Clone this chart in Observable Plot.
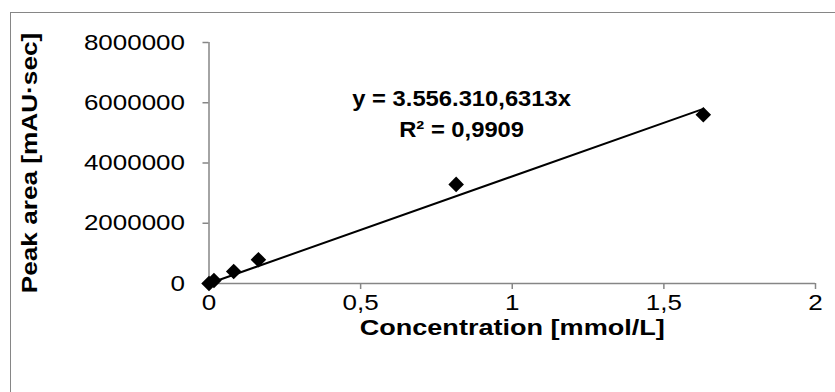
<!DOCTYPE html>
<html>
<head>
<meta charset="utf-8">
<script src="https://cdn.jsdelivr.net/npm/d3@7"></script>
<script src="https://cdn.jsdelivr.net/npm/@observablehq/plot@0.6"></script>
<style>
  html, body { margin: 0; padding: 0; background: #fff; overflow: hidden; }
  #wrap { position: relative; width: 835px; height: 392px; }
  #frame { position: absolute; left: 10px; top: 12px; width: 900px; height: 500px;
           border: 1.5px solid #868686; box-sizing: border-box; }
  #chart { position: absolute; left: 0; top: 0; }
  #chart svg { font-family: "Liberation Sans", Arial, sans-serif; }
</style>
</head>
<body>
<div id="wrap"><div id="frame"></div><div id="chart"></div></div>
<script>
// Data
const concentration = [0, 0.0163, 0.0815, 0.163, 0.815, 1.63];
const peakArea = [0, 100000, 400000, 790000, 3290000, 5600000];
const slope = 3556310.6313;
const equationLines = ["y = 3.556.310,6313x", "R² = 0,9909"];
const equationAt = {x: 0.833, y: 5600000};
const xTicks = [0, 0.5, 1, 1.5, 2];
const yTicks = [0, 2000000, 4000000, 6000000, 8000000];
const xLabel = "Concentration [mmol/L]";
const yLabel = "Peak area [mAU·sec]";

const points = concentration.map((c, i) => ({x: c, y: peakArea[i]}));
const xMax = d3.max(concentration);
const trend = [{x: 0, y: 0}, {x: xMax, y: slope * xMax}];

const axisGray = "#868686";
const fs = 22;
const lineGap = 31;
const chart = Plot.plot({
  width: 835,
  height: 392,
  marginLeft: 208.5,
  marginRight: 20,
  marginTop: 42,
  marginBottom: 109,
  style: {background: "transparent", color: "#000", fontSize: fs + "px", fontFamily: "Liberation Sans, Arial, sans-serif"},
  x: {domain: [0, 2]},
  y: {domain: [0, 8000000]},
  marks: [
    Plot.ruleX([0], {stroke: axisGray, strokeWidth: 1.5}),
    Plot.ruleY([0], {stroke: axisGray, strokeWidth: 1.5}),
    Plot.axisY({ticks: yTicks, tickSize: 6, tickPadding: 18, stroke: axisGray, strokeWidth: 1.5,
      tickFormat: d3.format("d"), fill: "#000", fontSize: fs, label: null}),
    Plot.axisX({ticks: xTicks, tickSize: 6, tickPadding: 5, stroke: axisGray, strokeWidth: 1.5,
      tickFormat: d => String(d).replace(".", ","), fill: "#000", fontSize: fs, label: null}),
    Plot.text([xLabel], {frameAnchor: "bottom", dy: 44, lineAnchor: "middle", textAnchor: "middle",
      fontWeight: "bold", fontSize: fs, fill: "#000"}),
    Plot.text([yLabel], {frameAnchor: "left", dx: -179, rotate: -90, lineAnchor: "middle", textAnchor: "middle",
      fontWeight: "bold", fontSize: fs, fill: "#000"}),
    Plot.line(trend, {x: "x", y: "y", stroke: "#000", strokeWidth: 2}),
    Plot.dot(points, {x: "x", y: "y", symbol: "diamond2", r: 7, fill: "#000", stroke: "none"}),
    Plot.text([equationLines[0]], {x: () => equationAt.x, y: () => equationAt.y, dy: -lineGap / 2,
      textAnchor: "middle", lineAnchor: "middle", fontWeight: "bold", fontSize: fs, fill: "#000"}),
    Plot.text([equationLines[1]], {x: () => equationAt.x, y: () => equationAt.y, dy: lineGap / 2,
      textAnchor: "middle", lineAnchor: "middle", fontWeight: "bold", fontSize: fs, fill: "#000"})
  ]
});
document.getElementById("chart").appendChild(chart);

// Reference text is drawn slightly wider along its baseline; stretch glyphs to match.
function stretchTexts(group, f) {
  for (const t of group.querySelectorAll("text")) {
    const len = t.getComputedTextLength();
    t.setAttribute("textLength", (len * f).toFixed(1));
    t.setAttribute("lengthAdjust", "spacingAndGlyphs");
  }
}
for (const g of chart.querySelectorAll('g[aria-label="y-axis tick label"], g[aria-label="x-axis tick label"]')) stretchTexts(g, 1.18);
const textGroups = chart.querySelectorAll('g[aria-label="text"]');
[1.23, 1.19, 1.08, 1.08].forEach((f, i) => { if (textGroups[i]) stretchTexts(textGroups[i], f); });
</script>
</body>
</html>
